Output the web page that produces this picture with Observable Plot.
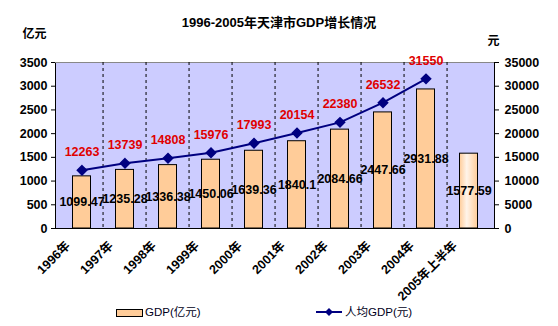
<!DOCTYPE html>
<html><head><meta charset="utf-8">
<script src="https://cdn.jsdelivr.net/npm/d3@7"></script>
<script src="https://cdn.jsdelivr.net/npm/@observablehq/plot@0.6"></script>
<style>
body{margin:0;background:#fff;font-family:"Liberation Sans","Noto Sans CJK SC",sans-serif;}
#title{height:29px;box-sizing:border-box;padding-top:15px;line-height:15px;text-align:center;font-weight:bold;font-size:13px;width:558px;}
#chart svg{display:block;}
#legend{position:relative;height:22px;width:558px;font-size:11.5px;color:#000020;}
.sw{position:absolute;top:5px;left:116px;width:25px;height:6px;background:#ffcc99;border:1px solid #000;}
.lt{position:absolute;top:0;line-height:16px;}
</style></head>
<body>
<div id="title">1996-2005年天津市GDP增长情况</div>
<div id="chart"></div>
<div id="legend">
  <div class="sw"></div><div class="lt" style="left:145px">GDP(亿元)</div>
  <svg style="position:absolute;left:314px;top:2px" width="30" height="12"><line x1="2" y1="6" x2="28" y2="6" stroke="#000080" stroke-width="2"/><path d="M15 2 L19 6 L15 10 L11 6Z" fill="#000080"/></svg>
  <div class="lt" style="left:345px">人均GDP(元)</div>
</div>
<script>
const categories = ["1996年","1997年","1998年","1999年","2000年","2001年","2002年","2003年","2004年","2005年上半年"];
const gdp = [1099.47,1235.28,1336.38,1450.06,1639.36,1840.1,2084.66,2447.66,2931.88,1577.59];
const perCapita = [12263,13739,14808,15976,17993,20154,22380,26532,31550,null];
const leftTicks = [0,500,1000,1500,2000,2500,3000,3500];

const rows = categories.map((c,i)=>({cat:c, gdp:gdp[i], pc:perCapita[i], last:i===categories.length-1}));
const pcRows = rows.filter(d=>d.pc!=null);

const W=558, H=275, mL=55, mR=64, mT=33, mB=76;
const bw=(W-mL-mR)/categories.length;
const ff = "Liberation Sans, Noto Sans CJK SC, sans-serif";

const chart = Plot.plot({
  width:W, height:H, marginLeft:mL, marginRight:mR, marginTop:mT, marginBottom:mB,
  style:{fontFamily:ff, fontSize:"12px", fontWeight:"bold", color:"#000", background:"#fff", overflow:"visible"},
  x:{type:"band", domain:categories, padding:0},
  y:{domain:[0,3500]},
  marks:[
    Plot.frame({fill:"#ccccff", stroke:"#000"}),
    Plot.ruleY([3500],{stroke:"#888"}),
    Plot.ruleX(categories.slice(1),{dx:-bw/2, stroke:"#000", strokeDasharray:"3,3", strokeWidth:1}),
    Plot.barY(rows.filter(d=>!d.last),{x:"cat", y:"gdp", fill:"#ffcc99", stroke:"#000", strokeWidth:1, insetLeft:12.5, insetRight:12.5}),
    Plot.barY(rows.filter(d=>d.last),{x:"cat", y:"gdp", fill:"url(#g2005)", stroke:"#000", strokeWidth:1, insetLeft:12.5, insetRight:12.5}),
    Plot.text(rows,{x:"cat", y:d=>d.gdp/2, text:d=>String(d.gdp), fill:"#000", fontSize:12.5, fontWeight:"bold"}),
    Plot.line(pcRows,{x:"cat", y:d=>d.pc/10, stroke:"#000080", strokeWidth:2}),
    Plot.dot(pcRows,{x:"cat", y:d=>d.pc/10, symbol:"diamond2", r:4.2, fill:"#000080", stroke:"#000080"}),
    Plot.text(pcRows,{x:"cat", y:d=>d.pc/10, text:d=>String(d.pc), dy:-18, fill:"#e00000", fontSize:12.5, fontWeight:"bold"}),
    Plot.axisY({anchor:"left", ticks:leftTicks, tickFormat:d=>String(d), label:null, tickSize:4, tickPadding:4, fontSize:12.5}),
    Plot.axisY({anchor:"right", ticks:leftTicks, tickFormat:d=>String(d*10), label:null, tickSize:4, tickPadding:6, fontSize:12.5}),
    Plot.axisX({tickRotate:-45, tickSize:0, tickPadding:15, label:null, fontSize:12.5, dx:-14}),
    Plot.text(["亿元"],{frameAnchor:"top-left", dx:-33, dy:-33, fontSize:12, fontWeight:"bold", textAnchor:"start"}),
    Plot.text(["元"],{frameAnchor:"top-right", dx:-7, dy:-26, fontSize:12, fontWeight:"bold", textAnchor:"start"})
  ]
});
const ns="http://www.w3.org/2000/svg";
const defs=document.createElementNS(ns,"defs");
defs.innerHTML='<linearGradient id="g2005" x1="0" x2="1" y1="0" y2="0"><stop offset="0" stop-color="#ffcc99"/><stop offset="0.4" stop-color="#fff4ea"/><stop offset="1" stop-color="#ffcc99"/></linearGradient>';
chart.insertBefore(defs, chart.firstChild);
document.getElementById("chart").appendChild(chart);
</script>
</body></html>
